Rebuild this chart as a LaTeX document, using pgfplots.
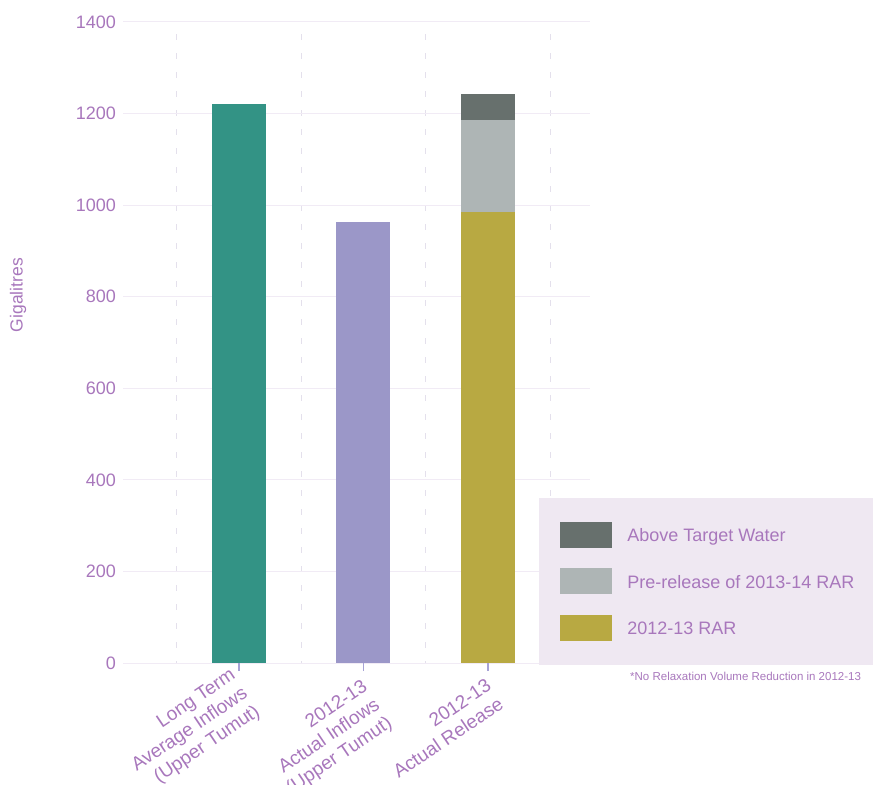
\documentclass[border=0pt]{standalone}
\usepackage{fontspec}
\setmainfont{Liberation Sans}
\usepackage{pgfplots}
\pgfplotsset{compat=1.18}

\definecolor{txt}{HTML}{A877BC}
\definecolor{gridc}{HTML}{F1EBF5}
\definecolor{dashc}{HTML}{E4E0EC}
\definecolor{tickc}{HTML}{A7A3D6}
\definecolor{legbg}{HTML}{EFE8F2}
\definecolor{teal}{HTML}{339385}
\definecolor{lilac}{HTML}{9B97C8}
\definecolor{olive}{HTML}{B8A942}
\definecolor{lgrey}{HTML}{AEB5B5}
\definecolor{dgrey}{HTML}{67706D}

\begin{document}
\begin{tikzpicture}
\begin{axis}[
  scale only axis, width=467bp, height=641bp,
  at={(0,0)}, anchor=south west,
  xmin=0.068, xmax=3.82, ymin=0, ymax=1400,
  ybar stacked, bar width=54bp,
  axis line style={draw=none},
  ytick={0,200,...,1400},
  ymajorgrids, major grid style={gridc, line width=1bp},
  xtick={1,2,3},
  xticklabels={{Long Term\\Average Inflows\\(Upper Tumut)},
               {\rule{0pt}{27bp}2012-13\\Actual Inflows\\(Upper Tumut)},
               {\rule{0pt}{26bp}2012-13\\Actual Release}},
  minor xtick={0.5,1.5,2.5,3.5},
  xminorgrids,
  minor grid style={dashc, line width=1bp, dash pattern=on 6bp off 13bp, dash phase=4bp},
  minor tick length=0pt,
  ytick style={draw=none},
  xtick style={tickc, line width=1.2bp},
  tick align=outside, xtick pos=bottom, major tick length=8bp,
  /pgf/number format/assume math mode=true,
  /pgf/number format/1000 sep={},
  tick label style={text=txt},
  yticklabel style={inner sep=0pt, xshift=1bp, font=\fontsize{18bp}{21.5bp}\selectfont},
  xticklabel style={xshift=-10bp, yshift=4bp, rotate=34, anchor=north east,
    align=right, inner sep=0pt, font=\fontsize{19bp}{22bp}\selectfont},
  every axis y label/.style={at={(rel axis cs:0,0.574)}, xshift=-105bp, rotate=90,
    anchor=center, text=txt, font=\fontsize{17.5bp}{20bp}\selectfont},
  ylabel={Gigalitres},
  legend image code/.code={\fill[#1] (0bp,-6bp) rectangle (52bp,20bp); \path (67bp,0bp);},
  reverse legend,
  legend style={at={(0.891,0.258)}, anchor=north west, fill=legbg, draw=none,
    inner xsep=21bp, inner ysep=24bp, row sep=20.5bp,
    nodes={inner sep=0pt, anchor=base west},
    text=txt, font=\fontsize{18bp}{21bp}\selectfont},
]
\addplot[fill=teal, draw=none, forget plot] coordinates {(1,1221) (2,0) (3,0)};
\addplot[fill=lilac, draw=none, forget plot] coordinates {(1,0) (2,963) (3,0)};
\addplot[fill=olive, draw=none] coordinates {(1,0) (2,0) (3,984)};
\addplot[fill=lgrey, draw=none] coordinates {(1,0) (2,0) (3,202)};
\addplot[fill=dgrey, draw=none] coordinates {(1,0) (2,0) (3,56)};
\legend{2012-13 RAR, Pre-release of 2013-14 RAR, Above Target Water}
\end{axis}
\node[anchor=west, inner sep=0pt, text=txt, font=\fontsize{11.5bp}{13bp}\selectfont]
  at (507bp,-13bp) {*No Relaxation Volume Reduction in 2012-13};
\pgfresetboundingbox
\useasboundingbox (-123bp,-122bp) rectangle (750bp,663bp);
\end{tikzpicture}
\end{document}
